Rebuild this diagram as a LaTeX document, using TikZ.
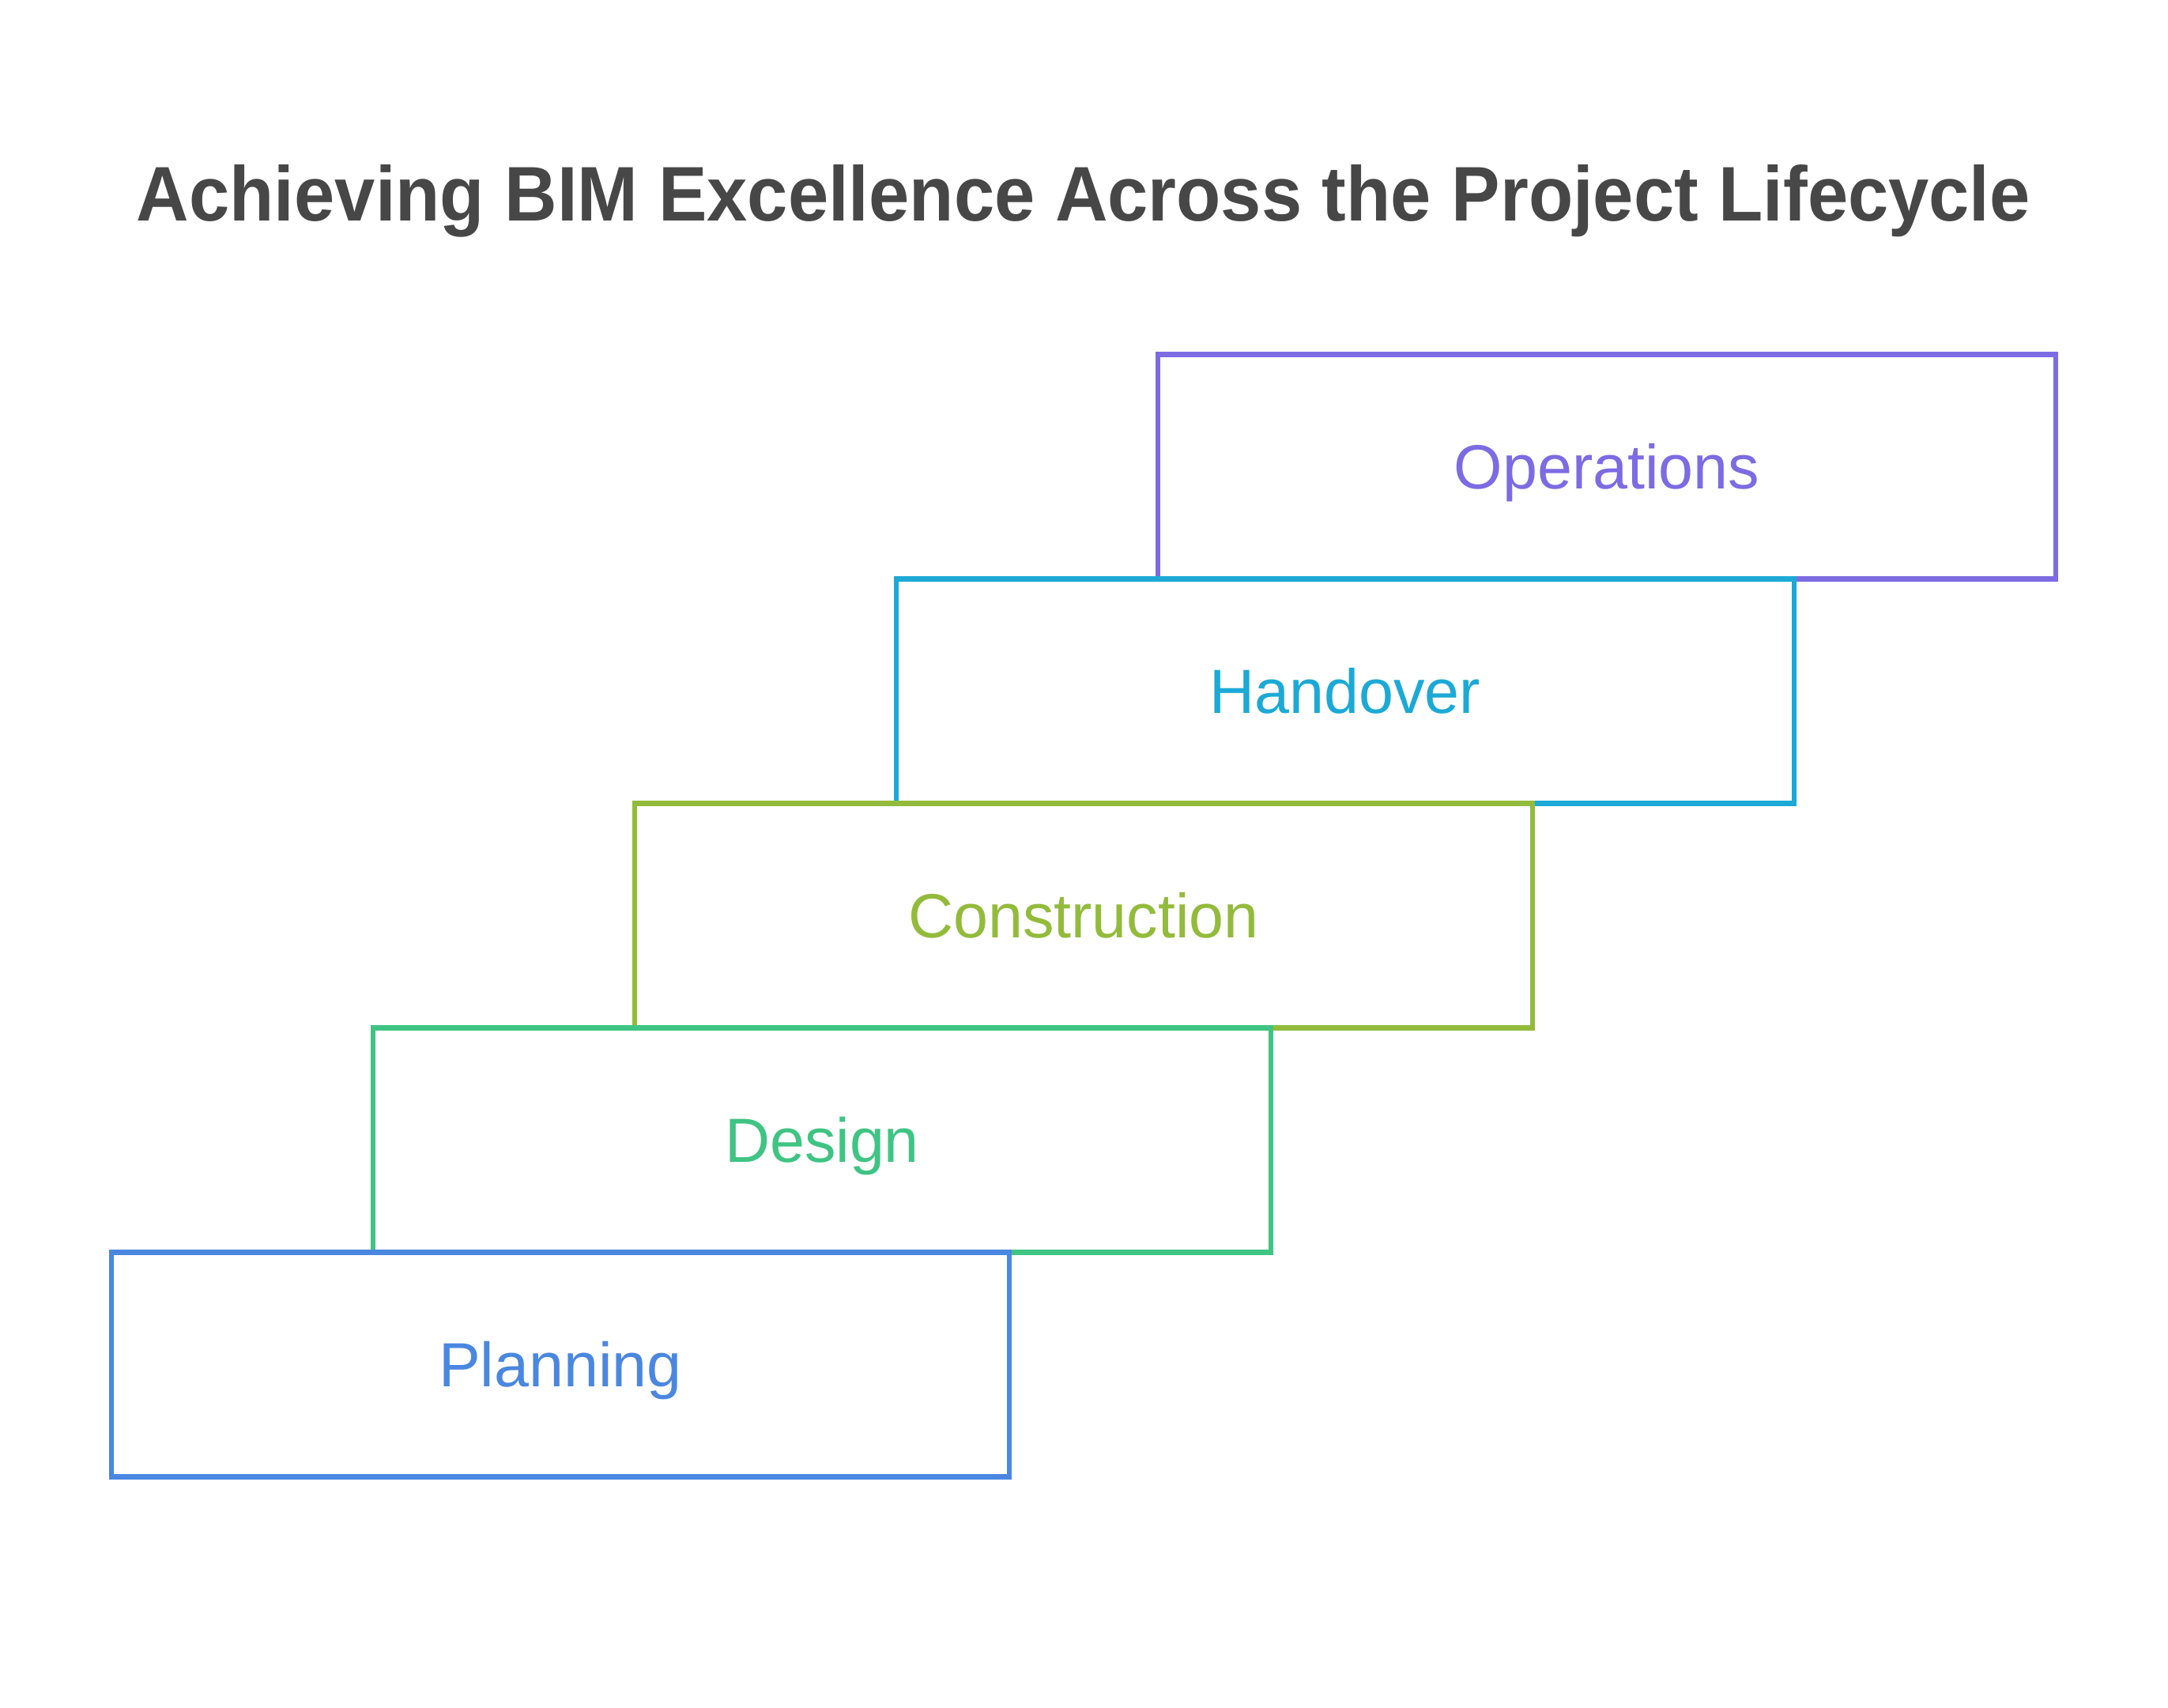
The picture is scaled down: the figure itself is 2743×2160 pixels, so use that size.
\documentclass[tikz,border=0pt]{standalone}
\usepackage{fontspec}
\usepackage{graphicx}
\setmainfont{Liberation Sans}
\definecolor{titlegray}{HTML}{474747}
\definecolor{opsviolet}{HTML}{7C6BE3}
\definecolor{handcyan}{HTML}{1CA9D6}
\definecolor{conslime}{HTML}{93BB3B}
\definecolor{desgreen}{HTML}{3FC483}
\definecolor{planblue}{HTML}{4A87E0}
\begin{document}
\begin{tikzpicture}[x=1pt, y=1pt,
    stagebox/.style={draw=#1, text=#1, fill=white, line width=6.5pt,
      minimum width=1136pt, minimum height=284pt, inner sep=0pt,
      text height=57pt, text depth=0pt,
      font=\fontsize{79}{95}\selectfont},
    headline/.style={text=titlegray, anchor=base,
      font=\fontsize{98}{116}\selectfont\bfseries}]

    \useasboundingbox (0,0) rectangle (2743,2160);

    % title
    \node[headline] (title) at (1371,1880)
      {\scalebox{0.94}[1]{Achieving BIM Excellence Across the Project Lifecycle}};

    % stair of stages, top one first so lower ones sit on top
    \foreach \i/\name/\col/\txt in {4/operations/opsviolet/Operations,
        3/handover/handcyan/Handover, 2/construction/conslime/Construction,
        1/design/desgreen/Design, 0/planning/planblue/Planning}{
      \node[stagebox=\col] (\name) at (709+331*\i, 433.5+284*\i) {\txt};
    }

\end{tikzpicture}
\end{document}
